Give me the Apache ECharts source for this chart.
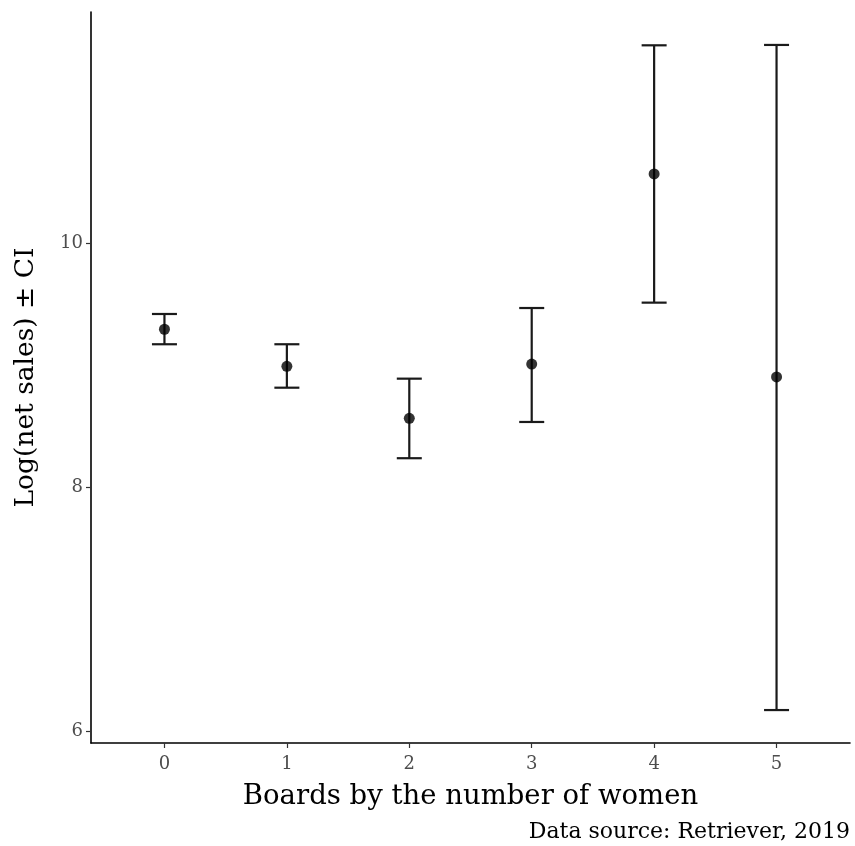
<!DOCTYPE html>
<html>
<head>
<meta charset="utf-8">
<script src="https://cdn.jsdelivr.net/npm/echarts@6/dist/echarts.min.js"></script>
<style>
  html, body { margin: 0; padding: 0; background: #fff; }
  #chart { width: 855px; height: 846px; }
</style>
</head>
<body>
<div id="chart"></div>
<script>
// Number of women on the board
const categories = [0, 1, 2, 3, 4, 5];
// Mean log(net sales) per group, with lower and upper confidence limits
const means = [9.293, 8.989, 8.563, 9.008, 10.566, 8.902];
const lower = [9.170, 8.814, 8.236, 8.533, 9.511, 6.172];
const upper = [9.418, 9.170, 8.888, 9.467, 11.620, 11.623];
const yTicks = [6, 8, 10];

const FONT = 'DejaVu Serif';

const errorData = categories.map((c, i) => [c, lower[i], upper[i]]);
const pointData = categories.map((c, i) => [c, means[i]]);

const chart = echarts.init(document.getElementById('chart'), null, { renderer: 'canvas' });

chart.setOption({
  backgroundColor: '#ffffff',
  animation: false,
  grid: { left: 91, right: 5, top: 12, bottom: 103, containLabel: false },
  xAxis: {
    type: 'value',
    min: -0.6,
    max: 5.6,
    name: 'Boards by the number of women',
    nameLocation: 'middle',
    nameGap: 40,
    nameTextStyle: { fontFamily: FONT, fontSize: 27.5, color: '#000' },
    axisLine: { show: true, onZero: false, lineStyle: { color: '#000', width: 1.6 } },
    axisTick: { show: true, length: 5, customValues: categories, lineStyle: { color: '#333', width: 1.2 } },
    axisLabel: { customValues: categories, fontFamily: FONT, fontSize: 18, color: '#4d4d4d', margin: 12 },
    splitLine: { show: false }
  },
  yAxis: {
    type: 'value',
    min: 5.902,
    max: 11.893,
    name: 'Log(net sales) ± CI',
    nameLocation: 'middle',
    nameRotate: 90,
    nameGap: 51,
    nameTextStyle: { fontFamily: FONT, fontSize: 26.5, color: '#000' },
    axisLine: { show: true, onZero: false, lineStyle: { color: '#000', width: 1.6 } },
    axisTick: { show: true, length: 5, customValues: yTicks, lineStyle: { color: '#333', width: 1.2 } },
    axisLabel: { customValues: yTicks, fontFamily: FONT, fontSize: 18, color: '#4d4d4d', margin: 8 },
    splitLine: { show: false }
  },
  graphic: [{
    type: 'text',
    right: 5,
    top: 821,
    style: { text: 'Data source: Retriever, 2019', fontFamily: FONT, fontSize: 22, fill: '#000' }
  }],
  series: [
    {
      type: 'custom',
      data: errorData,
      renderItem: function (params, api) {
        const x = api.value(0);
        const lo = api.coord([x, api.value(1)]);
        const hi = api.coord([x, api.value(2)]);
        const half = 12.5;
        const style = { stroke: '#1a1a1a', lineWidth: 2.2, fill: null };
        return {
          type: 'group',
          children: [
            { type: 'line', shape: { x1: lo[0], y1: lo[1], x2: hi[0], y2: hi[1] }, style: style },
            { type: 'line', shape: { x1: hi[0] - half, y1: hi[1], x2: hi[0] + half, y2: hi[1] }, style: style },
            { type: 'line', shape: { x1: lo[0] - half, y1: lo[1], x2: lo[0] + half, y2: lo[1] }, style: style }
          ]
        };
      },
      z: 2
    },
    {
      type: 'scatter',
      data: pointData,
      symbol: 'circle',
      symbolSize: 11,
      itemStyle: { color: '#000' },
      z: 3
    }
  ]
});
</script>
</body>
</html>
